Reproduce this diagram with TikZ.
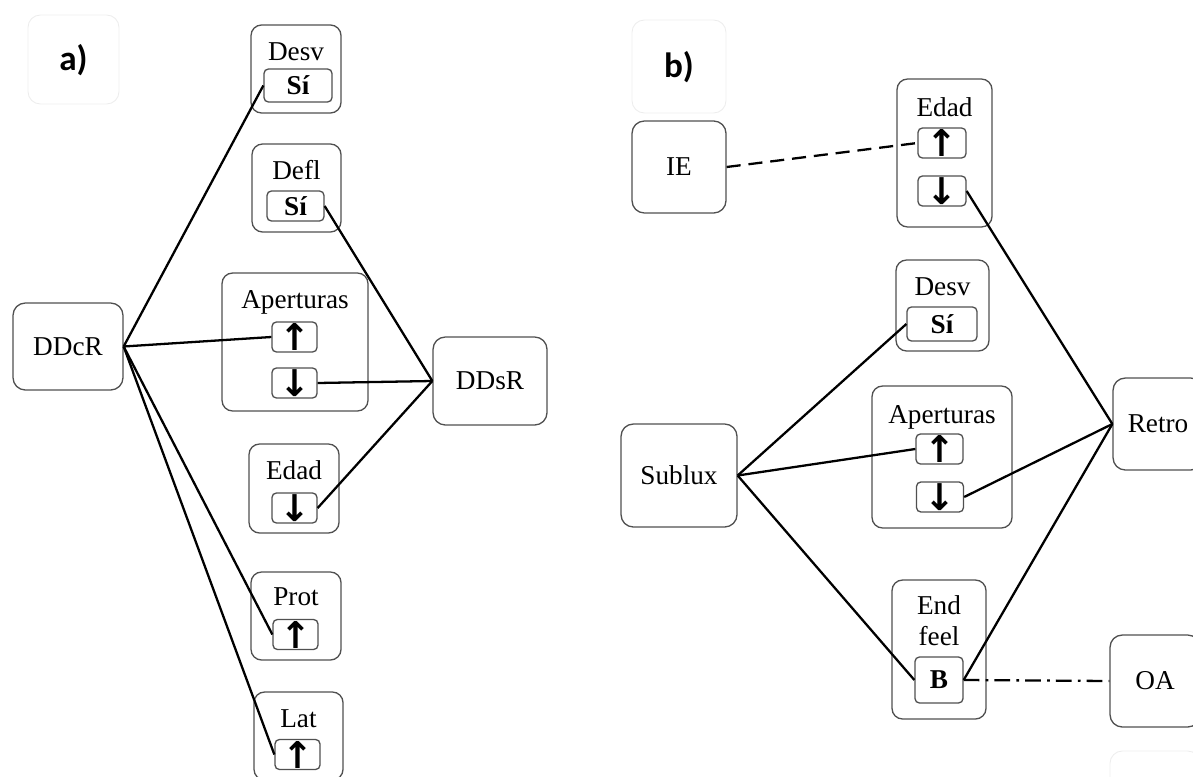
\documentclass[tikz,border=0pt]{standalone}
\usepackage{fontspec}
\setmainfont{Liberation Serif}
\newfontfamily\lblfont{Carlito}
\newfontfamily\arrfont{DejaVu Sans}
\usepackage{xcolor}
\definecolor{boxgray}{HTML}{505050}
\definecolor{ghost}{HTML}{EDEDED}

\begin{document}
\begin{tikzpicture}[x=0.02cm, y=-0.02cm,
    every node/.style={font=\fontsize{15.5}{17.6}\selectfont},
    mainbox/.style={draw=boxgray, line width=0.75pt, rounded corners=7pt, inner sep=0pt},
    grp/.style={draw=boxgray, line width=0.75pt, rounded corners=6pt, inner sep=0pt},
    cell/.style={draw=boxgray, line width=0.75pt, rounded corners=2.5pt, inner sep=0pt,
        minimum width=0.9cm, minimum height=0.6cm},
    ghostbox/.style={draw=ghost, line width=0.5pt, rounded corners=7pt, inner sep=0pt},
    link/.style={line width=1.3pt}]
    \useasboundingbox (0,0) rectangle (1193,777);
    \clip (0,0) rectangle (1193,777);
    \newcommand{\up}{{\arrfont\bfseries\fontsize{21}{21}\selectfont ↑}}
    \newcommand{\dn}{{\arrfont\bfseries\fontsize{21}{21}\selectfont ↓}}

    % Panel a
    \node[ghostbox, minimum width=1.82cm, minimum height=1.78cm] (lbla) at (73.5,59.5) {};
    \node (lblatxt) at (73.5,60) {\lblfont\bfseries\fontsize{20}{20}\selectfont a)};

    \node[mainbox, minimum width=2.2cm, minimum height=1.74cm] (ddcr) at (68,346.5) {DDcR};
    \node[mainbox, minimum width=2.28cm, minimum height=1.76cm] (ddsr) at (490,381) {DDsR};

    \node[grp, minimum width=1.8cm, minimum height=1.76cm] (desv) at (296,69) {};
    \node (desvtt) at (296,52) {Desv};
    \node[cell, minimum width=1.36cm, minimum height=0.66cm] (desvsi) at (298,85.5) {\bfseries Sí};

    \node[grp, minimum width=1.78cm, minimum height=1.76cm] (defl) at (296.5,188) {};
    \node (defltt) at (296.5,170) {Defl};
    \node[cell, minimum width=1.14cm] (deflsi) at (295.5,206) {\bfseries Sí};

    \node[grp, minimum width=2.92cm, minimum height=2.76cm] (aper) at (295,342) {};
    \node (apertt) at (295,302) {Aperturas};
    \node[cell] (aperup) at (294.5,337) {\up};
    \node[cell] (aperdn) at (294.5,383) {\dn};

    \node[grp, minimum width=1.8cm, minimum height=1.78cm] (edad) at (294,488.5) {};
    \node (edadtt) at (294,470) {Edad};
    \node[cell] (edaddn) at (294.5,508) {\dn};

    \node[grp, minimum width=1.8cm, minimum height=1.76cm] (prot) at (296,616) {};
    \node (prottt) at (296,597) {Prot};
    \node[cell] (protup) at (295.5,634.5) {\up};

    \node[grp, minimum width=1.78cm, minimum height=1.76cm] (lat) at (298.5,736) {};
    \node (lattt) at (298.5,719) {Lat};
    \node[cell] (latup) at (297.5,754.5) {\up};

    \draw[link] (ddcr.east) -- (desvsi.west);
    \draw[link] (ddcr.east) -- (aperup.west);
    \draw[link] (ddcr.east) -- (protup.west);
    \draw[link] (ddcr.east) -- (latup.west);
    \draw[link] (deflsi.east) -- (ddsr.west);
    \draw[link] (aperdn.east) -- (ddsr.west);
    \draw[link] (edaddn.east) -- (ddsr.west);

    % Panel b
    \node[ghostbox, minimum width=1.88cm, minimum height=1.86cm] (lblb) at (679,66.5) {};
    \node (lblbtxt) at (679,67) {\lblfont\bfseries\fontsize{20}{20}\selectfont b)};

    \node[mainbox, minimum width=1.88cm, minimum height=1.84cm] (ie) at (679,167) {IE};
    \node[mainbox, minimum width=2.32cm, minimum height=2.06cm] (sublux) at (679,475.5) {Sublux};
    \node[mainbox, minimum width=1.8cm, minimum height=1.84cm] (retro) at (1158,424) {Retro};
    \node[mainbox, minimum width=1.8cm, minimum height=1.84cm] (oa) at (1155,681) {OA};
    \node[ghostbox, minimum width=1.8cm, minimum height=1.8cm] (ghostoa) at (1155,796) {};

    \node[grp, minimum width=1.9cm, minimum height=2.96cm] (edadb) at (944.5,153) {};
    \node (edadbtt) at (944.5,107) {Edad};
    \node[cell, minimum width=0.96cm] (edadbup) at (942,143) {\up};
    \node[cell, minimum width=0.96cm] (edadbdn) at (942,191) {\dn};

    \node[grp, minimum width=1.86cm, minimum height=1.82cm] (desvb) at (942.5,305.5) {};
    \node (desvbtt) at (942.5,287) {Desv};
    \node[cell, minimum width=1.4cm, minimum height=0.68cm] (desvbsi) at (942,324) {\bfseries Sí};

    \node[grp, minimum width=2.8cm, minimum height=2.84cm] (aperb) at (942,457) {};
    \node (aperbtt) at (942,417) {Aperturas};
    \node[cell, minimum width=0.94cm] (aperbup) at (939.5,449) {\up};
    \node[cell, minimum width=0.94cm] (aperbdn) at (940,497) {\dn};

    \node[grp, minimum width=1.88cm, minimum height=2.78cm] (endf) at (939,649.5) {};
    \node[align=center] (endftt) at (939,621) {End\\feel};
    \node[cell, minimum width=0.96cm, minimum height=0.92cm] (endfb) at (939,680) {\bfseries B};

    \draw[link, dash pattern=on 8pt off 4.5pt] (ie.east) -- (edadbup.west);
    \draw[link] (sublux.east) -- (desvbsi.west);
    \draw[link] (sublux.east) -- (aperbup.west);
    \draw[link] (sublux.east) -- (endfb.west);
    \draw[link] (edadbdn.east) -- (retro.west);
    \draw[link] (aperbdn.east) -- (retro.west);
    \draw[link] (endfb.east) -- (retro.west);
    \draw[link, dash pattern=on 9pt off 3.5pt on 1.5pt off 3.5pt] (endfb.east) -- (oa.west);
\end{tikzpicture}
\end{document}
